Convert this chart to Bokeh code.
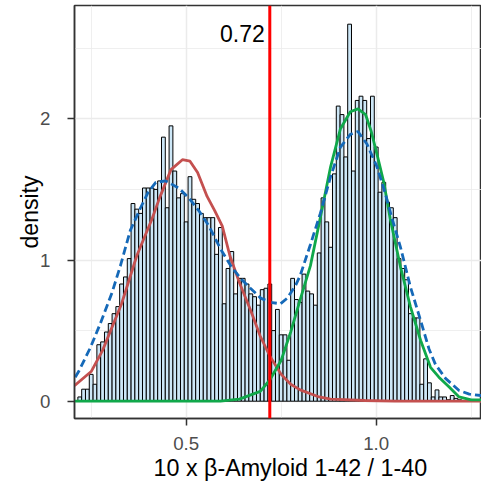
from bokeh.plotting import figure
from bokeh.models import FixedTicker, Label, Span, ColumnDataSource, Title
from bokeh.embed import file_html
from bokeh.resources import INLINE

# ---- data ----
bin_start = 0.215
bin_width = 0.01
density = [0.03, 0.085, 0.085, 0.19, 0.12, 0.40, 0.42, 0.49, 0.55, 0.62,
           0.67, 0.83, 0.88, 1.01, 1.40, 1.36, 1.33, 1.51, 1.51, 1.51,
           1.50, 1.56, 1.87, 1.37, 1.95, 1.63, 1.44, 1.47, 1.27, 1.59,
           1.43, 1.40, 1.33, 1.30, 1.30, 1.30, 1.04, 1.23, 0.69, 0.94,
           1.06, 0.76, 0.87, 0.87, 0.83, 0.76, 0.74, 0.68, 0.79, 0.80,
           0.83, 0.50, 0.65, 0.47, 0.47, 0.29, 0.87, 0.72, 0.70, 0.90,
           0.78, 0.76, 0.68, 1.05, 1.44, 1.27, 1.09, 1.61, 2.09, 2.03,
           1.73, 2.67, 1.63, 2.13, 2.16, 2.13, 1.86, 2.16, 1.80, 1.48,
           1.55, 1.41, 1.37, 1.30, 1.01, 0.94, 0.86, 0.62, 0.59, 0.59,
           0.12, 0.30, 0.13, 0.03, 0.08, 0.03, 0.03, 0.01, 0.04, 0.02,
           0.01]

red_x = [0.206, 0.25, 0.28, 0.33, 0.37, 0.41, 0.43, 0.46, 0.49, 0.51, 0.53,
         0.555, 0.575, 0.595, 0.615, 0.64, 0.67, 0.695, 0.72, 0.75, 0.775,
         0.80, 0.85, 0.88, 0.97, 1.05, 1.277]
red_y = [0.11, 0.21, 0.36, 0.69, 1.03, 1.29, 1.44, 1.64, 1.71, 1.70, 1.62,
         1.45, 1.35, 1.24, 1.03, 0.84, 0.64, 0.46, 0.32, 0.19, 0.12,
         0.08, 0.03, 0.015, 0.005, 0.0, 0.0]

green_x = [0.206, 0.59, 0.64, 0.695, 0.72, 0.75, 0.775, 0.80, 0.827, 0.853,
           0.88, 0.906, 0.932, 0.952, 0.972, 0.987, 1.002, 1.02, 1.037, 1.064,
           1.09, 1.117, 1.143, 1.165, 1.192, 1.218, 1.25, 1.277]
green_y = [0.0, 0.0, 0.015, 0.07, 0.15, 0.29, 0.49, 0.72, 0.96, 1.30,
           1.66, 1.93, 2.05, 2.07, 2.03, 1.91, 1.75, 1.55, 1.29, 0.95,
           0.67, 0.43, 0.24, 0.17, 0.10, 0.03, 0.01, 0.01]

blue_x = [0.208, 0.217, 0.248, 0.274, 0.305, 0.327, 0.353, 0.38, 0.40, 0.42,
          0.446, 0.48, 0.507, 0.533, 0.56, 0.59, 0.617, 0.643, 0.669, 0.696,
          0.722, 0.748, 0.766, 0.788, 0.80, 0.827, 0.853, 0.88, 0.906, 0.932,
          0.952, 0.976, 1.002, 1.024, 1.04, 1.064, 1.09, 1.117, 1.139, 1.156,
          1.183, 1.218, 1.245, 1.277]
blue_y = [0.17, 0.21, 0.38, 0.55, 0.77, 0.96, 1.21, 1.37, 1.48, 1.55,
          1.56, 1.51, 1.44, 1.35, 1.24, 1.08, 0.96, 0.87, 0.80, 0.73,
          0.70, 0.69, 0.73, 0.82, 0.89, 1.11, 1.33, 1.59, 1.80, 1.89,
          1.91, 1.82, 1.66, 1.47, 1.31, 1.09, 0.81, 0.57, 0.37, 0.26,
          0.16, 0.076, 0.05, 0.04]

threshold = 0.72
threshold_label = "0.72"
x_ticks = [0.5, 1.0]
x_tick_labels = ["0.5", "1.0"]
x_minor = [0.25, 0.75, 1.25]
y_ticks = [0, 1, 2]
y_tick_labels = ["0", "1", "2"]
y_minor = [0.5, 1.5, 2.5]
x_title = "10 x \u03b2-Amyloid 1-42 / 1-40"
y_title = "density"

FONT = "Liberation Sans"

# ---- figure ----
p = figure(width=481, height=483, x_range=(0.2061, 1.2771), y_range=(-0.1225, 2.8024),
           output_backend="svg", toolbar_location=None,
           min_border_left=74, min_border_right=0, min_border_top=5, min_border_bottom=65)
p.background_fill_color = "white"
p.border_fill_color = "white"
p.outline_line_color = "#333333"
p.outline_line_width = 1.5

lefts = [bin_start + i * bin_width for i in range(len(density))]
rights = [l + bin_width for l in lefts]
src = ColumnDataSource(dict(left=lefts, right=rights, top=density, bottom=[0] * len(density)))
p.quad(left="left", right="right", top="top", bottom="bottom", source=src,
       fill_color="#CDE7F7", line_color="black", line_width=1.0)

p.line(red_x, red_y, line_color="#C4504F", line_width=2.8)
p.line(green_x, green_y, line_color="#10A84A", line_width=2.8)
p.line(blue_x, blue_y, line_color="#1569B8", line_width=2.8, line_dash="8 4")

p.add_layout(Span(location=threshold, dimension="height", line_color="#FF0000", line_width=3))

p.add_layout(Label(x=threshold, y=2.604, text=threshold_label, x_offset=-5,
                   text_align="right", text_baseline="middle",
                   text_font=FONT, text_font_size="23px", text_color="black"))

# axes
p.xaxis.ticker = FixedTicker(ticks=x_ticks, minor_ticks=x_minor)
p.yaxis.ticker = FixedTicker(ticks=y_ticks, minor_ticks=y_minor)
p.xaxis.major_label_overrides = dict(zip(x_ticks, x_tick_labels))
p.yaxis.major_label_overrides = dict(zip(y_ticks, y_tick_labels))
for ax in (p.xaxis, p.yaxis):
    ax.axis_line_color = "#333333"
    ax.axis_line_width = 1.5
    ax.major_tick_line_color = "#333333"
    ax.major_tick_line_width = 1.5
    ax.major_tick_out = 7
    ax.major_tick_in = 0
    ax.minor_tick_line_color = None
    ax.major_label_text_font = FONT
    ax.major_label_text_font_size = "18.7px"
    ax.major_label_text_color = "#4D4D4D"
p.xaxis.major_label_standoff = 11
p.yaxis.major_label_standoff = 17

p.yaxis.axis_label = y_title
p.yaxis.axis_label_text_font = FONT
p.yaxis.axis_label_text_font_size = "23px"
p.yaxis.axis_label_text_font_style = "normal"
p.yaxis.axis_label_text_color = "black"
p.yaxis.axis_label_standoff = -6

p.add_layout(Title(text=x_title, align="left", offset=79,
                   text_font=FONT, text_font_size="23.3px", text_font_style="normal",
                   text_color="black", standoff=1), "below")

# grid
p.xgrid.grid_line_color = "#EBEBEB"
p.ygrid.grid_line_color = "#EBEBEB"
p.xgrid.grid_line_width = 1.5
p.ygrid.grid_line_width = 1.5
p.xgrid.minor_grid_line_color = "#EBEBEB"
p.ygrid.minor_grid_line_color = "#EBEBEB"
p.xgrid.minor_grid_line_width = 0.8
p.ygrid.minor_grid_line_width = 0.8

open("out.html", "w").write(file_html(p, INLINE))
